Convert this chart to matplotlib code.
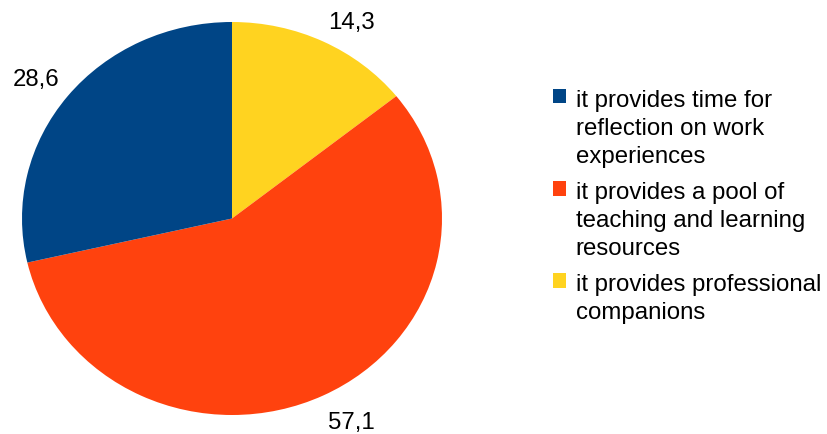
import matplotlib.pyplot as plt
import numpy as np

plt.rcParams['font.family'] = ['Liberation Sans', 'DejaVu Sans']

# data (percent)
labels = ["it provides time for\nreflection on work\nexperiences",
          "it provides a pool of\nteaching and learning\nresources",
          "it provides professional\ncompanions"]
values = [28.6, 57.1, 14.3]
colors = ["#004586", "#ff420e", "#ffd320"]

W, H = 828, 435
fig = plt.figure(figsize=(W / 100, H / 100), dpi=100)

# pie box in pixels: left 22, top 23, width 420, height 393 (slightly squashed)
ax = fig.add_axes([22 / W, (H - 23 - 393) / H, 420 / W, 393 / H])

# draw clockwise from top: yellow, orange, blue
order = [2, 1, 0]
wedges, texts = ax.pie(
    [values[i] for i in order],
    colors=[colors[i] for i in order],
    labels=[f"{values[i]:.1f}".replace('.', ',') for i in order],
    startangle=90, counterclock=False, radius=1.0,
    wedgeprops=dict(linewidth=0),
    textprops=dict(fontsize=17.3, color='black'),
)
ax.set_aspect('auto')
ax.set_xlim(-1, 1)
ax.set_ylim(-1, 1)
ax.axis('off')

# value labels just outside the rim, box corner pointing at the wedge middle
for w, t in zip(wedges, texts):
    ang = np.deg2rad((w.theta1 + w.theta2) / 2)
    x, y = 1.05 * np.cos(ang), 1.05 * np.sin(ang)
    if y < 0:
        y -= 0.035   # text box has extra room above the digits
    t.set_position((x, y))
    t.set_ha('left' if x > 0 else 'right')
    t.set_va('bottom' if y > 0 else 'top')

handles = [wedges[order.index(i)] for i in range(3)]
leg = fig.legend(handles, labels, loc='upper left',
                 bbox_to_anchor=(553 / W, 1 - 90 / H),
                 frameon=False, fontsize=17.3,
                 handlelength=0.55, handleheight=0.55, handletextpad=0.4,
                 labelspacing=0.61, borderpad=0, borderaxespad=0)
for t in leg.get_texts():
    t.set_linespacing(1.34)
# marker next to the first line of each entry
for col in leg._legend_handle_box.get_children():
    for row in col.get_children():
        row.align = 'top'

fig.savefig('out.png', dpi=100)
